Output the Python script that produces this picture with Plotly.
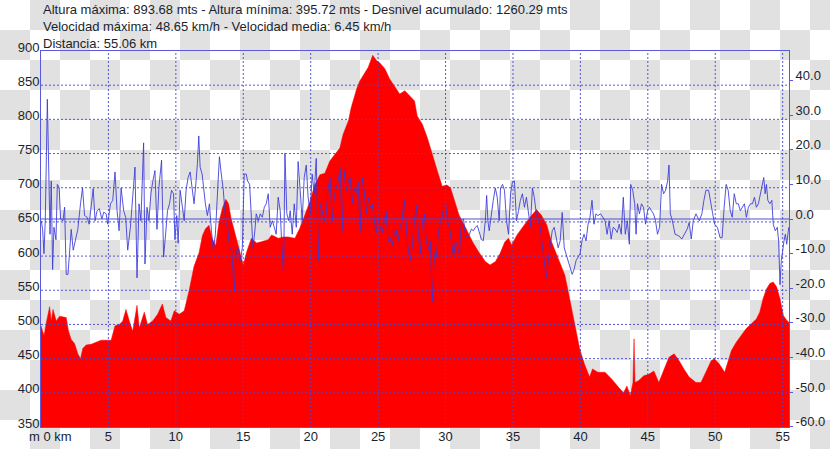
import plotly.graph_objects as go

# ---------------- data ----------------
elev_km = [0.00, 0.22, 0.42, 0.64, 0.76, 0.89, 1.13, 1.38, 1.87, 2.04, 2.24, 2.49, 2.73, 2.93, 3.10, 3.35,
           3.72, 4.09, 4.46, 4.95, 5.20, 5.49, 5.81, 6.06, 6.30, 6.55, 6.80, 7.12, 7.29, 7.66, 7.90, 8.28,
           8.65, 9.00, 9.26, 9.63, 9.88, 10.25, 10.62, 10.99, 11.35, 11.72, 11.97, 12.20, 12.46, 12.70,
           12.96, 13.20, 13.45, 13.70, 13.90, 14.10, 14.40, 14.75, 15.00, 15.25, 15.60, 16.00, 16.36,
           16.85, 17.10, 17.60, 17.96, 18.33, 18.83, 19.20, 19.57, 19.94, 20.30, 20.68, 21.05, 21.42,
           21.80, 22.16, 22.40, 22.80, 23.00, 23.40, 23.64, 23.90, 24.26, 24.60, 24.88, 25.10, 25.50,
           25.86, 26.20, 26.60, 26.98, 27.35, 27.70, 27.90, 28.28, 28.65, 29.00, 29.40, 29.75, 30.10,
           30.37, 30.60, 31.00, 31.50, 32.00, 32.46, 32.95, 33.30, 33.70, 34.05, 34.40, 34.67, 34.90,
           35.30, 35.65, 36.00, 36.40, 36.75, 37.10, 37.50, 37.86, 38.35, 38.85, 39.20, 39.58, 39.95,
           40.30, 40.68, 40.90, 41.30, 41.83, 42.33, 42.83, 43.20, 43.45, 43.70, 43.90, 43.98, 44.05,
           44.33, 44.70, 45.07, 45.45, 45.82, 46.20, 46.57, 46.95, 47.32, 47.70, 48.07, 48.57, 48.94,
           49.30, 49.70, 49.94, 50.30, 50.70, 50.94, 51.20, 51.56, 51.93, 52.30, 52.68, 53.05, 53.30,
           53.55, 53.80, 54.05, 54.30, 54.55, 54.80, 55.05, 55.30, 55.47]
elev_m = [498, 484, 505, 526, 505, 522, 505, 512, 510, 490, 478, 472, 457, 450, 465, 470,
          471, 474, 477, 477, 477, 498, 500, 505, 522, 505, 490, 528, 495, 518, 500, 505,
          515, 530, 510, 505, 520, 515, 520, 550, 585, 605, 630, 640, 645, 625,
          615, 650, 670, 683, 677, 655, 631, 606, 587, 606, 626, 619, 621,
          624, 631, 626, 628, 628, 626, 641, 660, 680, 704, 719, 721, 739,
          749, 758, 778, 798, 817, 844, 856, 864, 876, 893.68, 886, 883, 874,
          859, 849, 837, 842, 834, 827, 805, 793, 773, 749, 724, 702, 704,
          700, 685, 660, 641, 621, 606, 592, 587, 592, 604, 621, 626, 616,
          631, 641, 650, 660, 668, 660, 646, 621, 597, 572, 538, 499, 464,
          442, 423, 435, 430, 430, 420, 408, 400, 410, 395.72, 415, 479, 415,
          418, 425, 427, 432, 415, 434, 452, 457, 447, 434, 423, 415, 415,
          430, 447, 450, 442, 430, 445, 462, 474, 484, 494, 501, 508, 518,
          538, 552, 560, 562, 555, 538, 513, 506, 503]

speed_km = [0.02, 0.12, 0.22, 0.32, 0.47, 0.57, 0.67, 0.76, 0.86, 0.96, 1.11, 1.21, 1.35, 1.45, 1.63, 1.75,
            1.87, 2.00, 2.09, 2.24, 2.39, 2.54, 2.73, 2.93, 3.08, 3.23, 3.42, 3.57, 3.72, 3.87, 4.01, 4.16,
            4.33, 4.51, 4.66, 4.83, 4.95, 5.15, 5.32, 5.49, 5.64, 5.79, 5.94, 6.13, 6.28, 6.43, 6.63, 6.82,
            6.97, 7.12, 7.27, 7.41, 7.61, 7.71, 7.86, 8.00, 8.15, 8.30, 8.45, 8.60, 8.74, 8.94, 9.09, 9.24,
            9.38, 9.53, 9.68, 9.83, 9.93, 10.07, 10.17, 10.32, 10.47, 10.62, 10.76, 10.91, 11.06, 11.21,
            11.35, 11.50, 11.60, 11.70, 11.80, 11.95, 12.04, 12.19, 12.34, 12.49, 12.64, 12.78, 12.93,
            13.08, 13.23, 13.37, 13.52, 13.69,
            13.84, 13.99, 14.14, 14.33, 14.48, 14.63, 14.78, 14.93, 15.02, 15.07, 15.22, 15.32, 15.47,
            15.62, 15.72, 15.86, 15.96, 16.11, 16.26, 16.41, 16.56, 16.70, 16.85, 17.00, 17.15, 17.30,
            17.44, 17.59, 17.74, 17.84, 17.99, 18.09, 18.23, 18.38, 18.48, 18.63, 18.78, 18.93, 19.07,
            19.22, 19.37, 19.52, 19.67, 19.81, 19.96, 20.11, 20.26, 20.41, 20.56, 20.70, 20.85, 21.00,
            21.15, 21.30, 21.44, 21.59, 21.74, 21.89, 22.04, 22.19, 22.33, 22.48, 22.63, 22.78, 22.93,
            23.07, 23.22, 23.37, 23.52, 23.67, 23.81, 23.96, 24.11, 24.26, 24.41, 24.56, 24.70, 24.85,
            25.00, 25.15, 25.30, 25.44, 25.59, 25.74, 25.89, 26.04, 26.19, 26.33, 26.48, 26.63, 26.78,
            26.93, 27.07, 27.22, 27.37, 27.52,
            27.69, 27.84, 27.99, 28.13, 28.28, 28.43, 28.57, 28.72, 28.87, 29.02, 29.17, 29.31, 29.46,
            29.61, 29.75, 29.90, 30.00, 30.15, 30.29, 30.44, 30.59, 30.74, 30.88, 31.03, 31.18, 31.33,
            31.47, 31.62, 31.77, 31.92, 32.06, 32.21, 32.36, 32.51, 32.65, 32.80, 32.95, 33.05, 33.14,
            33.24, 33.39, 33.54, 33.69, 33.83, 33.98, 34.08, 34.23, 34.37, 34.52, 34.67, 34.82, 34.96,
            35.11, 35.26, 35.41, 35.55, 35.70, 35.85, 36.00, 36.14, 36.29, 36.44, 36.58, 36.73, 36.88,
            37.03, 37.17, 37.32, 37.47, 37.62, 37.76, 37.91, 38.06, 38.21, 38.35, 38.50, 38.65, 38.80,
            38.94, 39.09, 39.24, 39.39, 39.53, 39.68, 39.83, 39.98, 40.12, 40.27, 40.42, 40.57, 40.71,
            40.86, 41.01, 41.15, 41.30, 41.50,
            41.83, 41.98, 42.13, 42.28, 42.43, 42.58, 42.73, 42.88, 43.03, 43.18, 43.33, 43.48, 43.63,
            43.73, 43.88, 44.03, 44.13, 44.23, 44.38, 44.53, 44.68, 44.83, 44.98, 45.12, 45.27, 45.42,
            45.57, 45.72, 45.87, 46.02, 46.17, 46.32, 46.47, 46.57, 46.67, 46.82, 47.02, 47.32, 47.52,
            47.72, 47.92, 48.07, 48.22, 48.37, 48.57, 48.82, 49.01, 49.16, 49.31, 49.51, 49.66, 49.81,
            49.96, 50.16, 50.36, 50.51, 50.66, 50.81, 50.96, 51.11, 51.26, 51.41, 51.56, 51.71, 51.86,
            52.01, 52.16, 52.31, 52.46, 52.61, 52.76, 52.91, 53.05, 53.20, 53.35, 53.50, 53.60, 53.70,
            53.80, 53.90, 54.05, 54.20, 54.30, 54.45, 54.60, 54.70, 54.80, 54.90, 55.00, 55.10, 55.20,
            55.30, 55.45]
speed_v = [-0.5, -3, -10, 0, 34.6, 11, -4.4, 11, -14.6, -2.4, -6, 10, 9, 0, -0.5, 3.4,
           -16, -16, -11, -3, -9, -6, -3, 4.4, 9, 1, 0.5, -1.5, 3.4, 8.8, -0.5, 2.4,
           3, 0, 2, 1.5, -1.5, 4.4, 5.4, 13.6, 2.4, -3.4, 9, 2.4, 0.5, -9, -2.4, 8.3,
           15, -17, 4.4, -0.5, 22, -13, 3.4, -0.5, 7.3, 11, 14, -3, 9, 17, -11, -4.4,
           2.4, 4.4, 8.3, 7.3, -6, 1, -7, 8.3, 3.4, -0.5, 8.3, 12, 13.6, 9,
           4.4, 11, 16, 24, 15, 13, 9, 4.4, 1, 4.4, -3.4, -9, -4.4,
           6.3, 18, 13, 8.3, -0.5,
           -2.4, -8.3, -9, -21, -9, -8.3, -12, -8.3, 2.4, 13, 13, 11, 10,
           0.5, -8.3, -3.4, 1.5, -0.5, 1.5, 0.5, 3.4, 4.4, 7.3, -2.4, -0.5, -2.4,
           -4.4, 6.3, 2.4, -6.3, -16, 19, 1.5, -0.5, 2.4, -4.4, 4.4, -2.4, 16.6,
           8.3, -0.5, 12, 15.6, 6.3, 1.5, 13, 7.3, 17.5, -12, 4.4, 2.4, -0.5,
           1.5, 9, 12, -0.5, 6.3, 9, 11, 15, -3.4, 14, 8.3, 11, 12,
           4.4, 9, 7.3, 11, -3.4, 12, 8.3, 1.5, 6.3, 3.4, 4.4, -0.5, -3.9,
           0.5, -2.4, -3.9, -0.5, 2.4, -6.3, -5.4, -7.8, -4.4, -2.9, -6.3, -2.4, -0.5,
           5.8, -0.5, -8.3, -12, -8.3,
           -0.5, 3.9, -4.4, -10, -0.5, 1.5, -6.3, -9, -6.3, -24, -10, -11, -4.4,
           -0.5, 0.5, 4.4, 4.4, -0.5, -2.4, -6.3, -11, -6.3, -8.3, -10, -0.5, 0,
           -4.4, -5.4, -4.4, -2.9, -3.4, -2.4, -1.9, -3.9, -5.8, -6.3, -0.5, 6.8, -0.5,
           -3.4, 1.5, 5.4, 9, 6.3, -0.5, 9, 10, 8.3, -0.5, -4.4, 7.3, 10.7,
           11, -0.5, 2.4, 5.4, 7.3, 3.4, 6.3, 2.4, -2.4, 9, 6.3, 1.5, -0.5,
           -2.4, -7.3, -12, -17, -12, -8.3, -3.4, -2.4, -5.4, -8.3, -6.3, 1.9, -8.3,
           -10, -12, -14, -16, -14.6, -12, -11, -10, -6.3, -4.4, -6.3, -1.5, 0.5,
           5.4, -1.5, 1.5, 1, 1.5,
           -0.5, -4.4, -0.5, -5.8, -2.4, -2.9, -3.9, -1.5, -4.4, 6.3, -4.4, -0.5, -7.3,
           10, 8.3, 4.4, -4.4, 4.4, 1.5, 4.4, 3.4, -1.5, 2.4, 3.4, 2.4, 1.5,
           -0.5, -4.4, -2.4, 10, 7.3, 8.3, 11, 15.6, 1.5, -0.5, -4.4, -4.9, -5.8,
           -4.4, -2.9, -1, -5.8, -0.5, 1.5, -0.5, 1.5, 5.4, 8.3, 8.3, 4.4, 1.5,
           -1.5, -2.4, -5.4, -5.4, 3.4, 10, 8.3, 2.4, 0.5, 7.3, 4.4, 4.4, 2.4,
           3.4, 4.4, 0.5, 3.4, 4.4, 4.4, 6.3, 3.4, 4.4, 7.3, 11, 12, 7.3,
           10, 5.4, 4.4, 5.4, -1.5, -3.4, -2.4, -6.3, -19, -12, -8.3, -6.3, -4.4,
           -7.3, -2.4]

x_ticks = [5, 10, 15, 20, 25, 30, 35, 40, 45, 50, 55]
y_ticks = [350, 400, 450, 500, 550, 600, 650, 700, 750, 800, 850, 900]
y2_ticks = [-60, -50, -40, -30, -20, -10, 0, 10, 20, 30, 40]

header_lines = [
    "Altura máxima: 893.68 mts - Altura mínima: 395.72 mts - Desnivel acumulado: 1260.29 mts",
    "Velocidad máxima: 48.65 km/h - Velocidad media: 6.45 km/h",
    "Distancia: 55.06 km",
]

# ---------------- layout geometry ----------------
W, H = 830, 449
ML, MR, MT, MB = 41, 41, 51, 22
PW, PH = W - ML - MR, H - MT - MB
FONT = "Liberation Sans, Arial, sans-serif"
TXT = "#1b1f2e"
AXC = "#5a5ad8"
GRIDC = "rgba(70,70,215,0.9)"


def px_to_paper_x(px):
    return (px - ML) / PW


def px_to_paper_y(py):
    return (H - MB - py) / PH


fig = go.Figure()

fig.add_trace(go.Scatter(
    x=elev_km, y=elev_m, mode="lines", fill="tozeroy",
    line=dict(color="#ff0000", width=0.5), fillcolor="#ff0000",
    hoverinfo="skip", showlegend=False,
))
fig.add_trace(go.Scatter(
    x=speed_km, y=speed_v, mode="lines", yaxis="y2",
    line=dict(color="rgba(55,55,215,0.85)", width=1),
    hoverinfo="skip", showlegend=False,
))

shapes = []
# transparent-style checkerboard background
CS = 30
for row in range(H // CS + 1):
    for col in range(W // CS + 1):
        if (row + col) % 2 == 1:
            shapes.append(dict(
                type="rect", xref="paper", yref="paper", layer="below",
                x0=px_to_paper_x(col * CS), x1=px_to_paper_x(min((col + 1) * CS, W)),
                y0=px_to_paper_y(min((row + 1) * CS, H)), y1=px_to_paper_y(row * CS),
                fillcolor="#e1e1e1", line=dict(width=0),
            ))
# grid lines (drawn above the filled area, as in the original)
for xv in x_ticks:
    shapes.append(dict(type="line", xref="x", yref="paper", x0=xv, x1=xv, y0=0, y1=1,
                       layer="above", line=dict(color=GRIDC, width=1, dash="2px,2px")))
for yv in y_ticks[1:-1]:
    shapes.append(dict(type="line", xref="paper", yref="y", x0=0, x1=1, y0=yv, y1=yv,
                       layer="above", line=dict(color=GRIDC, width=1, dash="2px,2px")))
# zero line of right axis
shapes.append(dict(type="line", xref="paper", yref="y2", x0=0, x1=1, y0=0, y1=0,
                   layer="above", line=dict(color="rgba(70,70,215,0.95)", width=1)))

annotations = []
for txt, py in zip(header_lines, [9, 26, 43]):
    annotations.append(dict(
        text=txt, xref="paper", yref="paper", x=px_to_paper_x(41), y=px_to_paper_y(py),
        xanchor="left", yanchor="middle", showarrow=False,
        font=dict(family=FONT, size=13, color=TXT),
    ))
annotations.append(dict(
    text="m 0 km", xref="paper", yref="paper", x=px_to_paper_x(27), y=px_to_paper_y(436),
    xanchor="left", yanchor="middle", showarrow=False,
    font=dict(family=FONT, size=13, color=TXT),
))

fig.update_layout(
    width=W, height=H,
    margin=dict(l=ML, r=MR, t=MT, b=MB, pad=0, autoexpand=False),
    paper_bgcolor="#ffffff",
    plot_bgcolor="rgba(0,0,0,0)",
    showlegend=False,
    hovermode=False,
    shapes=shapes,
    annotations=annotations,
    xaxis=dict(
        range=[0, 55.47], tickvals=x_ticks, ticktext=[str(v) for v in x_ticks],
        showgrid=False, zeroline=False, showline=True, mirror=True, automargin=False,
        linecolor=AXC, linewidth=1, ticks="", ticklen=0, ticklabelstandoff=-3,
        tickfont=dict(family=FONT, size=13, color=TXT),
    ),
    yaxis=dict(
        range=[350, 900], tickvals=y_ticks, ticktext=[str(v) for v in y_ticks],
        showgrid=False, zeroline=False, showline=True, mirror=True, automargin=False,
        linecolor=AXC, linewidth=1, ticks="", ticklen=0,
        ticklabelshift=-4, ticklabelstandoff=-2,
        tickfont=dict(family=FONT, size=13, color=TXT),
    ),
    yaxis2=dict(
        overlaying="y", side="right", range=[-60.1, 48.55], automargin=False,
        tickvals=y2_ticks, ticktext=["%.1f" % v for v in y2_ticks],
        showgrid=False, zeroline=False, showline=False,
        ticks="outside", ticklen=3, tickcolor=AXC, ticklabelshift=-5,
        tickfont=dict(family=FONT, size=13, color=TXT),
    ),
)

fig.write_html("out.html", config={"displayModeBar": False},
               post_script="document.body.style.margin='0';")
